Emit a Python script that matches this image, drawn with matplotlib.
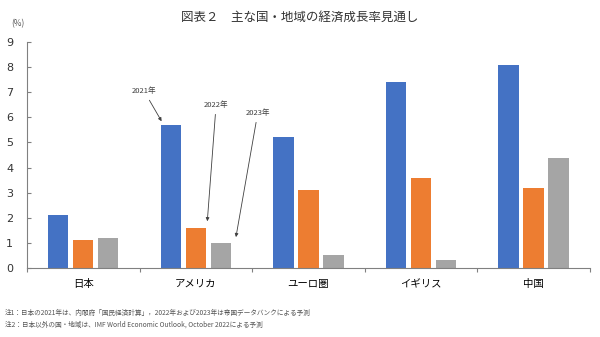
import matplotlib.pyplot as plt
import numpy as np

plt.rcParams['font.family'] = ['Noto Sans CJK JP', 'DejaVu Sans']

# data
regions = ['日本', 'アメリカ', 'ユーロ圏', 'イギリス', '中国']
g2021 = [2.1, 5.7, 5.2, 7.4, 8.1]
g2022 = [1.1, 1.6, 3.1, 3.6, 3.2]
g2023 = [1.2, 1.0, 0.5, 0.3, 4.4]
years = ['2021年', '2022年', '2023年']
colors = ['#4472C4', '#ED7D31', '#A5A5A5']

title = '図表２　主な国・地域の経済成長率見通し'
note1 = '注1：日本の2021年は、内閣府「国民経済計算」，2022年および2023年は帝国データバンクによる予測'
note2 = '注2：日本以外の国・地域は、IMF World Economic Outlook, October 2022による予測'

fig = plt.figure(figsize=(6, 3.37), dpi=100)
ax = fig.add_axes([0.045, 0.205, 0.938, 0.67])

x = np.arange(len(regions))
w = 0.18
step = 0.222
for i, vals in enumerate([g2021, g2022, g2023]):
    ax.bar(x + (i - 1) * step, vals, width=w, color=colors[i], zorder=2)

ax.set_xlim(-0.5, len(regions) - 0.5)
ax.set_ylim(0, 9)
ax.set_yticks(range(0, 10))
ax.tick_params(axis='y', direction='in', length=3, color='#808080',
               labelsize=8, pad=10)
for lab in ax.get_yticklabels():
    lab.set_family('DejaVu Sans')
    lab.set_color('#333333')

# category ticks at boundaries, labels centred
ax.set_xticks(np.arange(-0.5, len(regions), 1))
ax.set_xticklabels([])
ax.set_xticks(x, minor=True)
ax.set_xticklabels(regions, minor=True, fontsize=7.5)
ax.tick_params(axis='x', which='major', direction='out', length=3, color='#808080')
ax.tick_params(axis='x', which='minor', length=0, pad=8)

for s in ['top', 'right']:
    ax.spines[s].set_visible(False)
for s in ['left', 'bottom']:
    ax.spines[s].set_color('#808080')
    ax.spines[s].set_linewidth(0.8)

# arrows pointing at the US bars
arrow = dict(arrowstyle='-|>', color='#404040', lw=0.6, mutation_scale=5)
tips = [(1 - step - w / 2 + 0.02, g2021[1] + 0.05),
        (1 + w / 2 + 0.01, g2022[1] + 0.15),
        (1 + step + w / 2 + 0.04, g2023[1] + 0.12)]
texts = [(0.54, 7.05), (1.18, 6.5), (1.55, 6.18)]
for lbl, tip, txt in zip(years, tips, texts):
    ax.annotate(lbl, xy=tip, xytext=txt, fontsize=5.5, color='#404040',
                ha='center', va='center', arrowprops=arrow)

fig.text(0.5, 0.95, title, ha='center', va='center', fontsize=9, color='#333333')
fig.text(0.03, 0.93, '(%)', ha='center', va='center', fontsize=6, color='#555555')
fig.text(0.008, 0.072, note1, ha='left', va='center', fontsize=4.8, color='#555555')
fig.text(0.008, 0.038, note2, ha='left', va='center', fontsize=4.8, color='#555555')

fig.savefig('out.png', dpi=100)
